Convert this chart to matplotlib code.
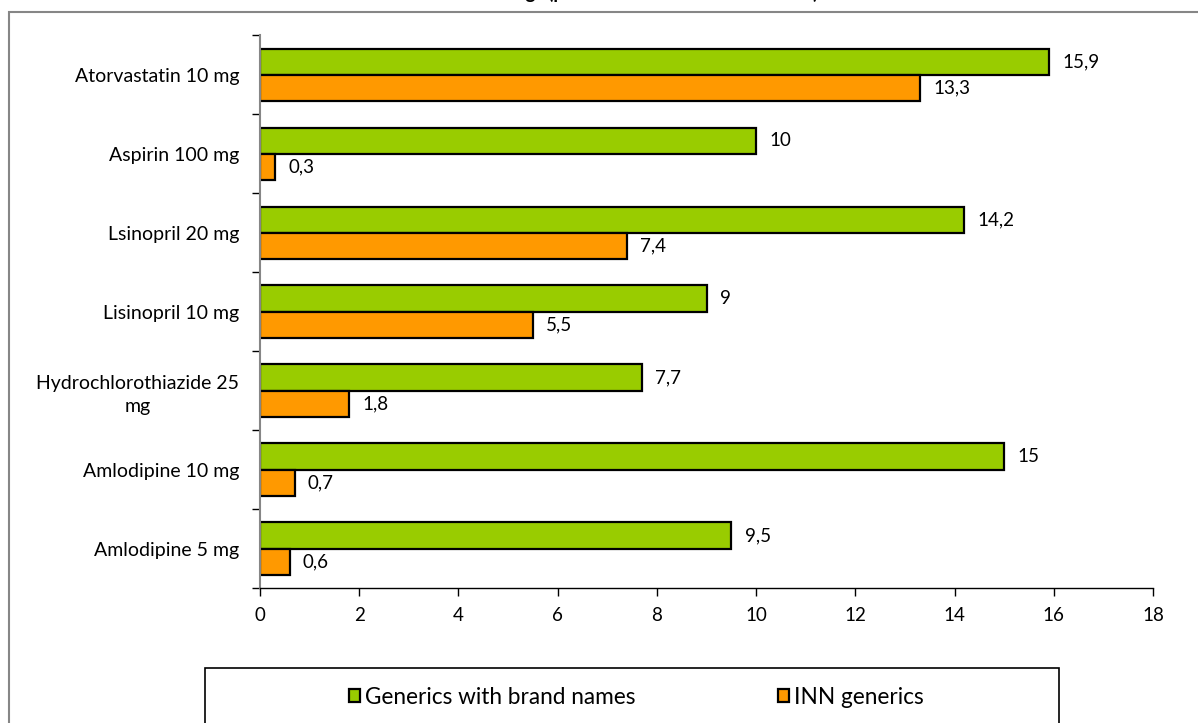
import matplotlib.pyplot as plt
from matplotlib.patches import Rectangle, Patch

plt.rcParams['font.family'] = ['Lato', 'DejaVu Sans']

drugs = ["Amlodipine 5 mg", "Amlodipine 10 mg", "Hydrochlorothiazide 25\nmg",
         "Lisinopril 10 mg", "Lsinopril 20 mg", "Aspirin 100 mg", "Atorvastatin 10 mg"]
brand = [9.5, 15, 7.7, 9, 14.2, 10, 15.9]
inn = [0.6, 0.7, 1.8, 5.5, 7.4, 0.3, 13.3]
series_names = ["Generics with brand names", "INN generics"]
green = "#99CC00"
orange = "#FF9900"

W, H = 1198, 723
fig = plt.figure(figsize=(W / 100, H / 100), dpi=100)
ax = fig.add_axes([260 / W, 1 - 588 / H, (1153 - 260) / W, (588 - 35.5) / H])

# outer chart frame, runs off the right and bottom edges
fig.patches.append(Rectangle((8.5 / W, -0.2), 1.2, 1.2 - 12 / H, transform=fig.transFigure,
                             fill=False, edgecolor="#868686", lw=1.5))
# legend frame
fig.patches.append(Rectangle((205 / W, -0.2), (1059 - 205) / W, 0.2 + (H - 668) / H,
                             transform=fig.transFigure, fill=False, edgecolor="#000000", lw=1.2))

h = 1 / 3
pos = list(range(len(drugs)))
ax.barh([p + h / 2 for p in pos], brand, height=h, color=green, edgecolor="black", lw=1.6)
ax.barh([p - h / 2 for p in pos], inn, height=h, color=orange, edgecolor="black", lw=1.6)

def fmt(v):
    s = ("%g" % v).replace(".", ",")
    return s

for p, b, i in zip(pos, brand, inn):
    ax.annotate(fmt(b), (b, p + h / 2), xytext=(9.5, 0), textcoords="offset points",
                va="center", ha="left", fontsize=13.5)
    ax.annotate(fmt(i), (i, p - h / 2), xytext=(9.5, 0), textcoords="offset points",
                va="center", ha="left", fontsize=13.5)

ax.set_xlim(0, 18)
ax.set_ylim(-0.5, len(drugs) - 0.5)
ax.set_xticks(range(0, 19, 2))
ax.tick_params(axis="x", labelsize=13.5, length=6, width=1, pad=8)
ax.set_yticks(pos)
ax.set_yticklabels(drugs, fontsize=14, multialignment="center", linespacing=1.45)
ax.tick_params(axis="y", length=0, pad=15)
ax.set_yticks([p - 0.5 for p in range(len(drugs) + 1)], minor=True)
ax.tick_params(axis="y", which="minor", length=6, width=1)
for side in ("top", "right"):
    ax.spines[side].set_visible(False)
ax.spines["left"].set_color("#868686")
ax.spines["left"].set_linewidth(1.5)
ax.spines["bottom"].set_linewidth(1)

fig.text(818 / W, 1 + 1.5 / H, "Price ratio of drugs (price to international reference)",
         ha="right", va="baseline", fontsize=13.5, fontweight="bold")

handles = [Patch(facecolor=green, edgecolor="black", lw=1.6),
           Patch(facecolor=orange, edgecolor="black", lw=1.6)]
fig.legend(handles, series_names, loc="center", bbox_to_anchor=(636 / W, 1 - 697 / H),
           ncol=2, frameon=False, fontsize=16.3, handlelength=0.5, handleheight=0.5,
           handletextpad=0.2, columnspacing=6.3)

fig.savefig("out.png", dpi=100)
